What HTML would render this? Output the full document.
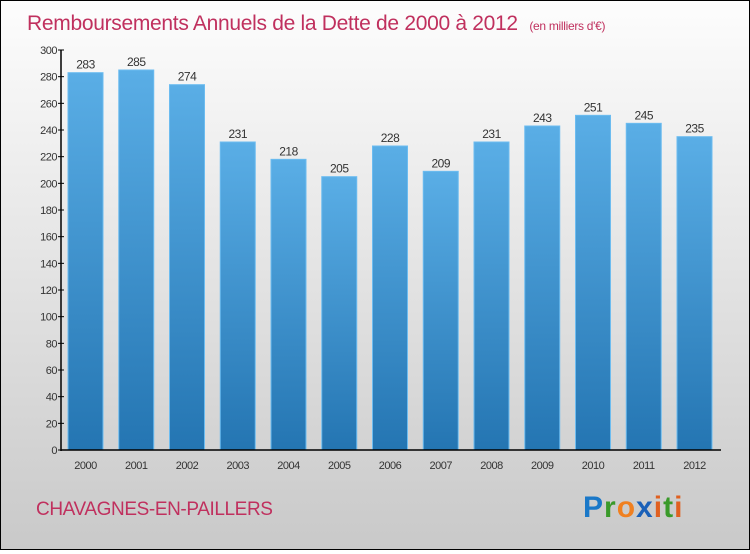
<!DOCTYPE html>
<html><head><meta charset="utf-8"><style>
body{margin:0;width:750px;height:550px;overflow:hidden}
#wrap{position:relative;width:748px;height:548px;border:1px solid #000;background:linear-gradient(#fdfdfd,#c9c9c9)}
text{font-family:"Liberation Sans",sans-serif}
</style></head><body>
<div id="wrap">
<svg id="svg" width="748" height="548">
<defs><linearGradient id="bg" x1="0" y1="0" x2="0" y2="1"><stop offset="0" stop-color="#5aaee6"/><stop offset="1" stop-color="#2475b2"/></linearGradient></defs>
<text x="26" y="29" font-size="21" fill="#c0305e" letter-spacing="-0.3">Remboursements Annuels de la Dette de 2000 à 2012 <tspan font-size="12" dx="6">(en milliers d'€)</tspan></text>
<text x="35" y="514" font-size="19" fill="#c0305e" letter-spacing="-0.4">CHAVAGNES-EN-PAILLERS</text>
<g font-size="30" font-weight="bold" font-family="Liberation Sans,sans-serif">
<text x="582" y="516" letter-spacing="1"><tspan fill="#1a78c8">P</tspan><tspan fill="#3a9a2a">r</tspan><tspan fill="#f08020">o</tspan><tspan fill="#1a60b8">x</tspan><tspan fill="#e06020">i</tspan><tspan fill="#3a9a2a">t</tspan><tspan fill="#e06020">i</tspan></text></g>
<g id="plot"></g>
</svg></div>
<script>
const categories=["2000","2001","2002","2003","2004","2005","2006","2007","2008","2009","2010","2011","2012"];
const values=[283,285,274,231,218,205,228,209,231,243,251,245,235];
const yTicks=[0,20,40,60,80,100,120,140,160,180,200,220,240,260,280,300];
const NS="http://www.w3.org/2000/svg",g=document.getElementById('plot');
const x0=60,x1=720,yb=449,yt=49,ymax=300;
const y=v=>yb-(yb-yt)*v/ymax;
const pitch=50.75,bx=v=>67+v*pitch,bw=35;
function el(t,a,p){const e=document.createElementNS(NS,t);for(const k in a)e.setAttribute(k,a[k]);(p||g).appendChild(e);return e;}
yTicks.forEach(t=>{
 const tk=el('line',{x1:x0-3,x2:x0+3,y1:y(t),y2:y(t),stroke:'#000'});
 
 
 const tx=el('text',{x:x0-4,y:y(t)+4,'text-anchor':'end','font-size':11,fill:'#333','letter-spacing':'-0.5'});
 tx.textContent=t;
 
 
});
values.forEach((v,i)=>{
 const r=el('rect',{x:bx(i),y:y(v),width:bw,height:yb-y(v),fill:'url(#bg)',stroke:'#6cbcf0','stroke-width':1});
 
 
 const l=el('text',{x:bx(i)+bw/2,y:y(v)-4,'text-anchor':'middle','font-size':12,fill:'#333','letter-spacing':'-0.5'});
 l.textContent=v;
 
 
 const c=el('text',{x:bx(i)+bw/2,y:468,'text-anchor':'middle','font-size':11,fill:'#333','letter-spacing':'-0.5'});
 c.textContent=categories[i];
 
 
});
const ya=el('line',{x1:x0,x2:x0,y1:yt,y2:yb+1,stroke:'#000','stroke-width':1.5});


const xa=el('line',{x1:x0,x2:x1,y1:yb,y2:yb,stroke:'#000','stroke-width':1.5});


</script>
</body></html>
